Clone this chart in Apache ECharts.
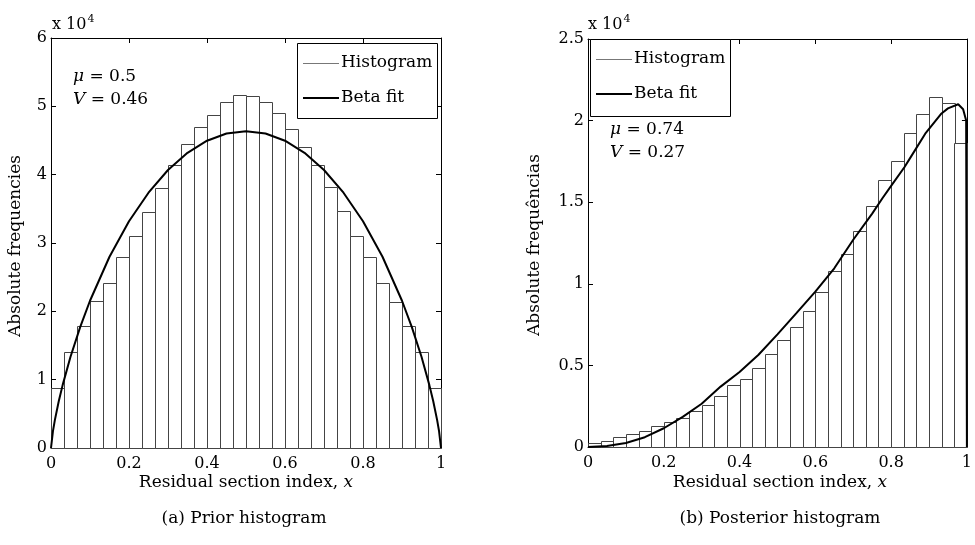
<!DOCTYPE html>
<html>
<head>
<meta charset="utf-8">
<script src="https://cdn.jsdelivr.net/npm/echarts@6/dist/echarts.min.js"></script>
<style>
  html, body { margin: 0; padding: 0; background: #fff; }
  #chart { width: 975px; height: 545px; }
</style>
</head>
<body>
<div id="chart"></div>
<script>
// histogram bins over [0, 1]
const binCount = 30
// prior histogram counts (absolute frequencies)
const priorCounts = [8800, 14000, 17900, 21500, 24200, 27900, 31000, 34500, 38100, 41400,
  44500, 47000, 48700, 50600, 51600, 51500, 50700, 49000, 46700, 44000,
  41400, 38200, 34700, 31000, 27900, 24200, 21300, 17900, 14000, 8800]
// posterior histogram counts
const postCounts = [240, 390, 610, 800, 980, 1260, 1530, 1790, 2220, 2590,
  3120, 3770, 4140, 4830, 5670, 6550, 7340, 8320, 9520, 10790,
  11810, 13240, 14790, 16340, 17520, 19220, 20380, 21420, 21090, 18600]
// beta fit curves: [x, frequency]
const priorFitX = [0, 0.005, 0.01, 0.02, 0.03, 0.05, 0.075, 0.1, 0.15, 0.2, 0.25, 0.3, 0.35, 0.4, 0.45, 0.5,
  0.55, 0.6, 0.65, 0.7, 0.75, 0.8, 0.85, 0.9, 0.925, 0.95, 0.97, 0.98, 0.99, 0.995, 1]
const priorFitY = [0, 2460, 4120, 6870, 9240, 13350, 17730, 21550, 27990, 33180, 37360, 40680, 43200, 44970, 46020, 46370,
  46020, 44970, 43200, 40680, 37360, 33180, 27990, 21550, 17730, 13350, 9240, 6870, 4120, 2460, 0]
const postFitX = [0, 0.05, 0.1, 0.15, 0.2, 0.25, 0.3, 0.35, 0.4, 0.45, 0.5, 0.55, 0.6, 0.65, 0.7,
  0.75, 0.777, 0.8, 0.835, 0.85, 0.89, 0.933, 0.95, 0.977, 0.99, 0.998, 1]
const postFitY = [0, 60, 250, 600, 1150, 1850, 2650, 3700, 4600, 5650, 6900, 8200, 9520, 10950, 12700,
  14300, 15240, 16000, 17140, 17700, 19200, 20440, 20750, 21000, 20700, 20000, 0]

const font = 'DejaVu Serif'
const chart = echarts.init(document.getElementById('chart'))

const histData = (counts) => counts.map((c, i) => [i / binCount, (i + 1) / binCount, c])
const fitData = (xs, ys) => xs.map((x, i) => [x, ys[i]])

const histItem = (params, api) => {
  const p0 = api.coord([api.value(0), api.value(2)])
  const p1 = api.coord([api.value(1), 0])
  return {
    type: 'rect',
    shape: { x: Math.round(p0[0]) + 0.5, y: Math.round(p0[1]) + 0.5,
      width: Math.round(p1[0] - p0[0]), height: Math.round(p1[1] - p0[1]) },
    style: { fill: '#fff', stroke: '#444', lineWidth: 1 }
  }
}

const xAxisFor = (gi, pos) => ({
  gridIndex: gi, type: 'value', position: pos, min: 0, max: 1, interval: 0.2,
  axisLine: { show: true, onZero: false, lineStyle: { color: '#000', width: 1 } },
  axisTick: { show: true, inside: true, length: 5, lineStyle: { color: '#000' } },
  axisLabel: { show: pos === 'bottom', margin: 8, color: '#000', fontFamily: font, fontSize: 16,
    formatter: (v) => String(+v.toFixed(1)) },
  splitLine: { show: false }
})
const yAxisFor = (gi, pos, max, step) => ({
  gridIndex: gi, type: 'value', position: pos, min: 0, max: max, interval: step,
  axisLine: { show: true, onZero: false, lineStyle: { color: '#000', width: 1 } },
  axisTick: { show: true, inside: true, length: 5, lineStyle: { color: '#000' } },
  axisLabel: { show: pos === 'left', margin: 4, color: '#000', fontFamily: font, fontSize: 16,
    formatter: (v) => String(+(v / 10000).toFixed(1)) },
  splitLine: { show: false }
})

const txt = (x, y, text, opts) => Object.assign({
  type: 'text', x: x, y: y,
  style: Object.assign({ text: text, fill: '#000', font: '17px "' + font + '"' }, opts || {})
})
const legendBox = (x, y, w, h) => [
  { type: 'rect', shape: { x: x + 0.5, y: y + 0.5, width: w, height: h },
    style: { fill: '#fff', stroke: '#000', lineWidth: 1 }, z: 10 },
  { type: 'line', shape: { x1: x + 6, y1: y + 20.5, x2: x + 42, y2: y + 20.5 },
    style: { stroke: '#777', lineWidth: 1 }, z: 11 },
  { type: 'line', shape: { x1: x + 6, y1: y + 55, x2: x + 42, y2: y + 55 },
    style: { stroke: '#000', lineWidth: 2 }, z: 11 },
  Object.assign(txt(x + 44, y + 20, 'Histogram', { verticalAlign: 'middle' }), { z: 11 }),
  Object.assign(txt(x + 44, y + 55, 'Beta fit', { verticalAlign: 'middle' }), { z: 11 })
]
const stats = (x, y, mu, v) => ({
  type: 'text', x: x, y: y, z: 11,
  style: {
    text: '{i|μ} = ' + mu + '\n{i|V} = ' + v,
    fill: '#000', font: '17px "' + font + '"', lineHeight: 23, verticalAlign: 'middle',
    rich: { i: { fontStyle: 'italic', fontFamily: font, fontSize: 17 } }
  }
})
const sci = (x, y) => ({
  type: 'text', x: x, y: y,
  style: { text: 'x 10{s|4}', fill: '#000', font: '16px "' + font + '"', verticalAlign: 'bottom',
    rich: { s: { fontSize: 11, fontFamily: font, verticalAlign: 'top', padding: [0, 0, 10, 1] } } }
})
const xName = (cx) => txt(cx, 483, '', {
  text: 'Residual section index, {i|x}', align: 'center', verticalAlign: 'middle',
  rich: { i: { fontStyle: 'italic', fontFamily: font, fontSize: 17 } }
})
const yName = (cx, cy, text) => Object.assign(
  txt(cx, cy, text, { align: 'center', verticalAlign: 'middle' }), { rotation: Math.PI / 2 })

const option = {
  animation: false,
  backgroundColor: '#fff',
  grid: [
    { left: 51, top: 38, width: 390, height: 410 },
    { left: 588, top: 39, width: 384, height: 408 }
  ],
  xAxis: [xAxisFor(0, 'bottom'), xAxisFor(0, 'top'), xAxisFor(1, 'bottom'), xAxisFor(1, 'top')],
  yAxis: [yAxisFor(0, 'left', 60000, 10000), yAxisFor(0, 'right', 60000, 10000),
    yAxisFor(1, 'left', 25000, 5000), yAxisFor(1, 'right', 25000, 5000)],
  series: [
    { name: 'Histogram', type: 'custom', xAxisIndex: 0, yAxisIndex: 0,
      renderItem: histItem, data: histData(priorCounts) },
    { name: 'Beta fit', type: 'line', xAxisIndex: 0, yAxisIndex: 0, showSymbol: false,
      lineStyle: { color: '#000', width: 2 }, data: fitData(priorFitX, priorFitY), z: 5 },
    { name: 'Histogram', type: 'custom', xAxisIndex: 2, yAxisIndex: 2,
      renderItem: histItem, data: histData(postCounts) },
    { name: 'Beta fit', type: 'line', xAxisIndex: 2, yAxisIndex: 2, showSymbol: false,
      lineStyle: { color: '#000', width: 2 }, data: fitData(postFitX, postFitY), z: 5 }
  ],
  graphic: [
    ...legendBox(297, 43, 140, 75),
    ...legendBox(590, 39, 140, 77),
    stats(73, 88, 0.5, 0.46),
    stats(610, 141, 0.74, 0.27),
    sci(52, 35),
    sci(588, 35),
    yName(16, 246, 'Absolute frequencies'),
    yName(535, 245, 'Absolute frequências'),
    xName(246),
    xName(780),
    txt(244, 519, '(a) Prior histogram', { align: 'center', verticalAlign: 'middle' }),
    txt(780, 519, '(b) Posterior histogram', { align: 'center', verticalAlign: 'middle' })
  ]
}
chart.setOption(option)
</script>
</body>
</html>
